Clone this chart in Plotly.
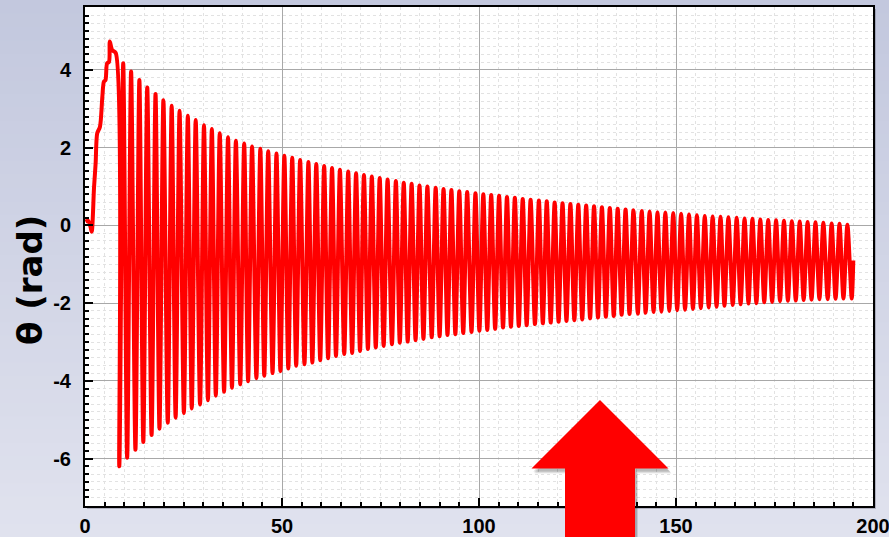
import plotly.graph_objects as go

# ---------------- data ----------------
start_t = [0.1, 0.8, 1.4, 1.7, 2.3, 2.7, 3.1, 3.8, 4.4, 4.8, 5.2, 5.6, 6.1, 6.3, 6.9, 7.8]
start_theta = [0.10, 0.12, -0.04, -0.16, 0.99, 1.60, 2.37, 2.54, 3.31, 3.70, 3.74, 4.17, 4.21, 4.73, 4.51, 4.44]

peak_t = [
    9.7, 11.7, 13.8, 15.8, 17.9, 19.9, 22.0, 24.0, 26.1, 28.1,
    30.2, 32.2, 34.2, 36.3, 38.3, 40.4, 42.4, 44.5, 46.5, 48.6,
    50.6, 52.6, 54.6, 56.7, 58.7, 60.7, 62.7, 64.7, 66.8, 68.8,
    70.8, 72.8, 74.8, 76.8, 78.9, 80.9, 82.9, 84.9, 86.9, 89.0,
    91.0, 93.0, 95.0, 97.0, 99.1, 101.1, 103.1, 105.1, 107.1, 109.1,
    111.1, 113.1, 115.2, 117.2, 119.2, 121.2, 123.2, 125.2, 127.2, 129.2,
    131.2, 133.2, 135.2, 137.2, 139.2, 141.3, 143.3, 145.3, 147.3, 149.3,
    151.3, 153.3, 155.3, 157.3, 159.3, 161.3, 163.3, 165.4, 167.4, 169.4,
    171.4, 173.4, 175.4, 177.4, 179.4, 181.4, 183.4, 185.4, 187.4, 189.5,
    191.5, 193.5,
]
peak_theta = [
    4.17, 3.96, 3.74, 3.55, 3.38, 3.22, 3.08, 2.95, 2.82, 2.71,
    2.58, 2.48, 2.37, 2.27, 2.18, 2.11, 2.03, 1.97, 1.91, 1.85,
    1.79, 1.74, 1.68, 1.63, 1.58, 1.53, 1.48, 1.43, 1.39, 1.34,
    1.30, 1.26, 1.22, 1.18, 1.14, 1.10, 1.07, 1.03, 1.00, 0.97,
    0.94, 0.91, 0.88, 0.86, 0.83, 0.80, 0.78, 0.76, 0.73, 0.71,
    0.68, 0.66, 0.64, 0.62, 0.59, 0.57, 0.55, 0.53, 0.51, 0.49,
    0.47, 0.45, 0.43, 0.41, 0.39, 0.37, 0.36, 0.34, 0.33, 0.32,
    0.30, 0.28, 0.26, 0.24, 0.23, 0.22, 0.21, 0.20, 0.18, 0.17,
    0.15, 0.14, 0.13, 0.12, 0.11, 0.10, 0.09, 0.08, 0.07, 0.05,
    0.04, 0.02,
]

trough_t = [
    8.7, 10.7, 12.8, 14.8, 16.9, 18.9, 21.0, 23.0, 25.1, 27.1,
    29.2, 31.2, 33.2, 35.3, 37.3, 39.4, 41.4, 43.5, 45.5, 47.6,
    49.6, 51.6, 53.6, 55.7, 57.7, 59.7, 61.7, 63.7, 65.8, 67.8,
    69.8, 71.8, 73.8, 75.8, 77.9, 79.9, 81.9, 83.9, 85.9, 88.0,
    90.0, 92.0, 94.0, 96.0, 98.1, 100.1, 102.1, 104.1, 106.1, 108.1,
    110.1, 112.1, 114.2, 116.2, 118.2, 120.2, 122.2, 124.2, 126.2, 128.2,
    130.2, 132.2, 134.2, 136.2, 138.2, 140.3, 142.3, 144.3, 146.3, 148.3,
    150.3, 152.3, 154.3, 156.3, 158.3, 160.3, 162.3, 164.4, 166.4, 168.4,
    170.4, 172.4, 174.4, 176.4, 178.4, 180.4, 182.4, 184.4, 186.4, 188.5,
    190.5, 192.5, 194.6,
]
trough_theta = [
    -6.20, -5.98, -5.77, -5.57, -5.39, -5.23, -5.08, -4.95, -4.83, -4.71,
    -4.61, -4.50, -4.38, -4.28, -4.18, -4.09, -4.01, -3.93, -3.87, -3.80,
    -3.75, -3.68, -3.61, -3.57, -3.53, -3.47, -3.42, -3.36, -3.31, -3.28,
    -3.23, -3.18, -3.14, -3.10, -3.06, -3.02, -2.99, -2.95, -2.92, -2.88,
    -2.85, -2.82, -2.80, -2.77, -2.74, -2.71, -2.69, -2.66, -2.63, -2.61,
    -2.59, -2.57, -2.54, -2.52, -2.50, -2.48, -2.46, -2.44, -2.42, -2.39,
    -2.37, -2.35, -2.33, -2.30, -2.28, -2.27, -2.25, -2.23, -2.22, -2.20,
    -2.18, -2.17, -2.15, -2.13, -2.11, -2.09, -2.07, -2.05, -2.03, -2.01,
    -2.00, -1.98, -1.97, -1.95, -1.94, -1.93, -1.92, -1.91, -1.90, -1.90,
    -1.89, -1.88, -1.88,
]

end_t = [195.0]
end_theta = [-0.90]

x_ticks = [0, 50, 100, 150, 200]
x_tick_labels = ["0", "50", "100", "150", "200"]
y_ticks = [-6, -4, -2, 0, 2, 4]
y_tick_labels = ["-6", "-4", "-2", "0", "2", "4"]

# ---------------- assemble series ----------------
t_all = list(start_t)
th_all = list(start_theta)
for j in range(len(trough_t)):
    t_all.append(trough_t[j]); th_all.append(trough_theta[j])
    if j < len(peak_t):
        t_all.append(peak_t[j]); th_all.append(peak_theta[j])
t_all += end_t
th_all += end_theta

# ---------------- layout geometry ----------------
W, H = 889, 537
ML, MR, MT, MB = 85, 16, 7, 31
PW, PH = W - ML - MR, H - MT - MB


def px_x(px):
    return (px - ML) / PW


def px_y(py):
    return (H - MB - py) / PH


fig = go.Figure()
fig.add_trace(go.Scatter(
    x=t_all, y=th_all, mode="lines",
    line=dict(color="#ff0000", width=4, shape="spline", smoothing=0.8),
    showlegend=False, hoverinfo="skip",
))

shapes = []
# background gradient (slide-like)
n_bands = 40
top_c = (0xC3, 0xC8, 0xDE)
bot_c = (0xE0, 0xE2, 0xEE)
for i in range(n_bands):
    f = i / (n_bands - 1)
    c = tuple(int(round(top_c[k] + (bot_c[k] - top_c[k]) * f)) for k in range(3))
    y0 = px_y(i * H / n_bands)
    y1 = px_y((i + 1) * H / n_bands + 1)
    shapes.append(dict(type="rect", xref="paper", yref="paper",
                       x0=px_x(-2), x1=px_x(W + 2), y0=y1, y1=y0,
                       fillcolor="rgb(%d,%d,%d)" % c, line=dict(width=0), layer="below"))
# frame shadow + white plot area
shapes.append(dict(type="rect", xref="paper", yref="paper", x0=px_x(ML + 2), x1=px_x(W - MR + 3),
                   y0=px_y(H - MB + 3), y1=px_y(MT + 2), fillcolor="rgba(90,90,110,0.35)",
                   line=dict(width=0), layer="below"))
shapes.append(dict(type="rect", xref="paper", yref="paper", x0=0, x1=1, y0=0, y1=1,
                   fillcolor="white", line=dict(width=0), layer="below"))


# red arrow (decoration) in pixel coords converted to paper
def arrow_path(dx=0.0, dy=0.0):
    pts = [(600, 400), (668.5, 468.5), (635, 468.5), (635, 545), (565, 545), (565, 468.5), (531.5, 468.5)]
    s = ""
    for i, (px, py) in enumerate(pts):
        s += ("M" if i == 0 else "L") + " %.5f %.5f " % (px_x(px + dx), px_y(py + dy))
    return s + "Z"


for (d, a) in [(5, 0.08), (4, 0.10), (3, 0.12)]:
    shapes.append(dict(type="path", xref="paper", yref="paper", path=arrow_path(d * 0.6, d),
                       fillcolor="rgba(0,0,0,%.2f)" % a, line=dict(width=0), layer="above"))
shapes.append(dict(type="path", xref="paper", yref="paper", path=arrow_path(),
                   fillcolor="#ff0000", line=dict(width=0), layer="above"))

axis_font = dict(family="Liberation Sans, Arial, sans-serif", size=20, color="black")

fig.update_layout(
    width=W, height=H,
    margin=dict(l=ML, r=MR, t=MT, b=MB, pad=0, autoexpand=False),
    paper_bgcolor="#d4d7e7",
    plot_bgcolor="white",
    shapes=shapes,
    annotations=[dict(
        text="<b>θ (rad)</b>", xref="paper", yref="paper",
        x=px_x(30), y=px_y(280), xanchor="center", yanchor="middle",
        textangle=-90, showarrow=False,
        font=dict(family="DejaVu Sans, sans-serif", size=34, color="black"),
    )],
    xaxis=dict(
        range=[0, 200], tickmode="array", tickvals=x_ticks,
        ticktext=["<b>%s</b>" % s for s in x_tick_labels],
        ticks="inside", ticklen=8, tickwidth=2, tickcolor="black",
        showline=True, linewidth=2, linecolor="black", mirror=True,
        showgrid=True, gridcolor="#a8a8a8", gridwidth=1, automargin=False,
        zeroline=False, tickfont=axis_font, ticklabelstandoff=1,
        ticklabeloverflow="allow",
        minor=dict(tickmode="linear", tick0=0, dtick=5, ticks="inside", ticklen=4,
                   tickwidth=1.5, tickcolor="black", showgrid=True,
                   gridcolor="#e2e2e2", griddash="dot", gridwidth=1),
    ),
    yaxis=dict(
        range=[-7.22, 5.62], tickmode="array", tickvals=y_ticks,
        ticktext=["<b>%s</b>" % s for s in y_tick_labels],
        ticks="inside", ticklen=8, tickwidth=2, tickcolor="black",
        showline=True, linewidth=2, linecolor="black", mirror=True,
        showgrid=True, gridcolor="#a8a8a8", gridwidth=1, automargin=False,
        zeroline=False, tickfont=axis_font, ticklabelstandoff=8,
        ticklabeloverflow="allow",
        minor=dict(tickmode="linear", tick0=0, dtick=0.2, ticks="inside", ticklen=4,
                   tickwidth=1.5, tickcolor="black", showgrid=True,
                   gridcolor="#e2e2e2", griddash="dot", gridwidth=1),
    ),
)

fig.write_html("out.html", config={"displayModeBar": False},
               post_script="document.body.style.margin='0';document.body.style.overflow='hidden';")
